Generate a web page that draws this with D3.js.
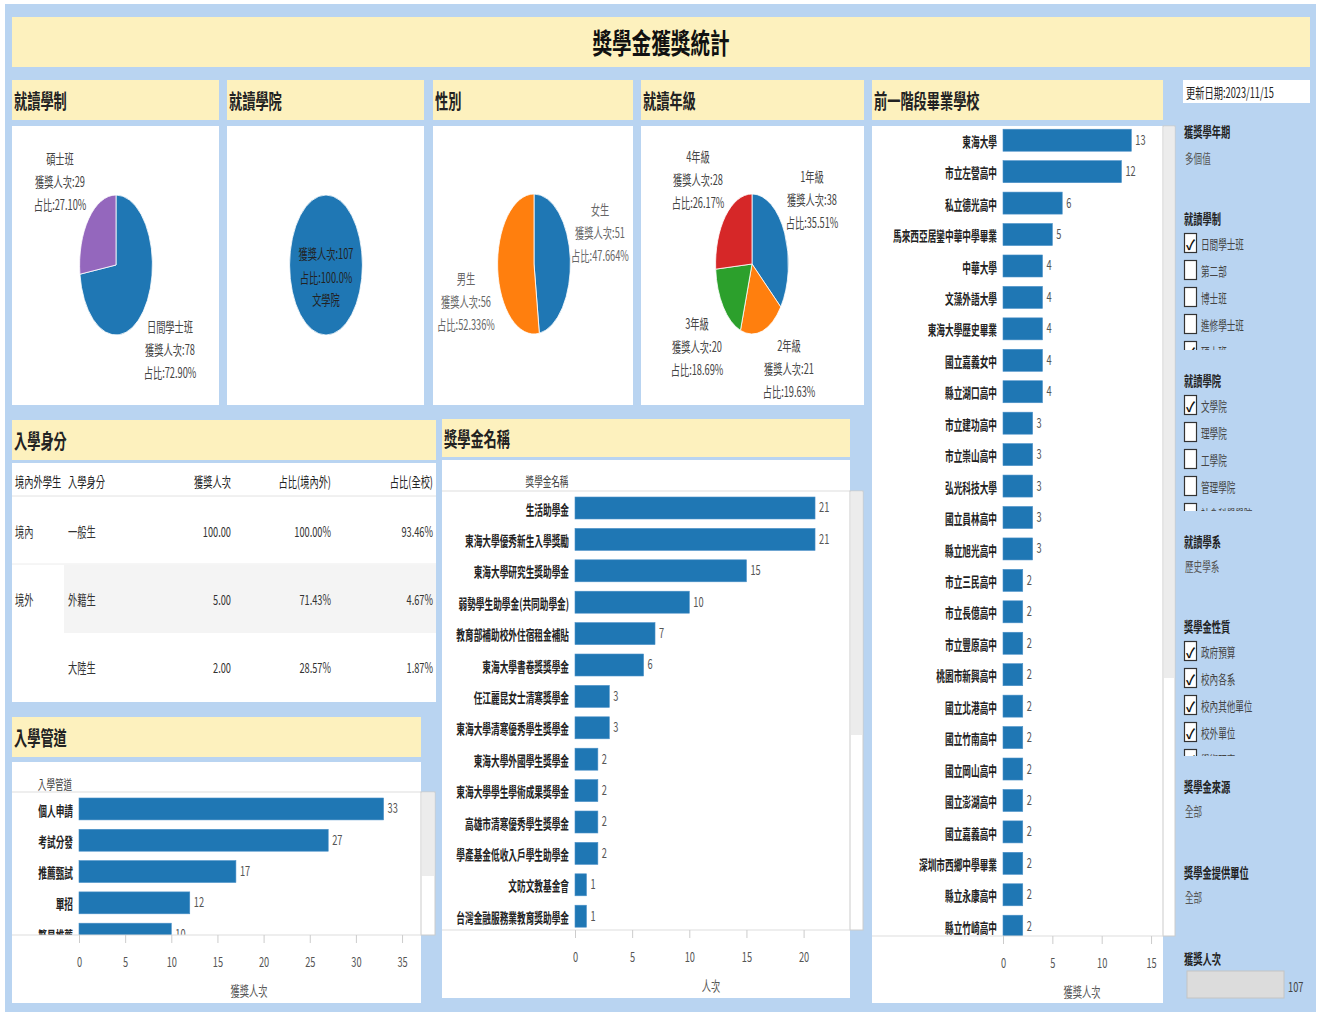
<!DOCTYPE html>
<html>
<head>
<meta charset="utf-8">
<script src="https://cdn.jsdelivr.net/npm/d3@7"></script>
<style>
  body { margin: 0; background: #fff; }
  svg text { font-family: "Noto Sans CJK TC", "Noto Sans", sans-serif; }
</style>
</head>
<body>
<svg id="dash" width="1321" height="1016"></svg>
<script>
// ---- data ----
const titleText = '獎學金獲獎統計';
const updateDate = '更新日期:2023/11/15';

const systemNames = ['日間學士班', '碩士班'];
const systemCounts = [78, 29];
const systemPct = ['72.90%', '27.10%'];

const collegeNames = ['文學院'];
const collegeCounts = [107];
const collegePct = ['100.0%'];

const genderNames = ['女生', '男生'];
const genderCounts = [51, 56];
const genderPct = ['47.664%', '52.336%'];

const gradeNames = ['1年級', '2年級', '3年級', '4年級'];
const gradeCounts = [38, 21, 20, 28];
const gradePct = ['35.51%', '19.63%', '18.69%', '26.17%'];

const idColumns = ['境內外學生', '入學身分', '獲獎人次', '占比(境內外)', '占比(全校)'];
const idRegion = ['境內', '境外', ''];
const idTypes = ['一般生', '外籍生', '大陸生'];
const idCounts = ['100.00', '5.00', '2.00'];
const idPctRegion = ['100.00%', '71.43%', '28.57%'];
const idPctAll = ['93.46%', '4.67%', '1.87%'];

const channelNames = ['個人申請', '考試分發', '推薦甄試', '單招', '繁星推薦'];
const channelCounts = [33, 27, 17, 12, 10];
const channelTicks = [0, 5, 10, 15, 20, 25, 30, 35];

const awardNames = ['生活助學金', '東海大學優秀新生入學獎勵', '東海大學研究生獎助學金',
  '弱勢學生助學金(共同助學金)', '教育部補助校外住宿租金補貼', '東海大學書卷獎獎學金',
  '任江麗昆女士清寒獎學金', '東海大學清寒優秀學生獎學金', '東海大學外國學生獎學金',
  '東海大學學生學術成果獎學金', '高雄市清寒優秀學生獎學金', '學產基金低收入戶學生助學金',
  '文昉文教基金會', '台灣金融服務業教育獎助學金'];
const awardCounts = [21, 21, 15, 10, 7, 6, 3, 3, 2, 2, 2, 2, 1, 1];
const awardTicks = [0, 5, 10, 15, 20];

const schoolNames = ['東海大學', '市立左營高中', '私立德光高中', '馬來西亞居鑾中華中學畢業',
  '中華大學', '文藻外語大學', '東海大學歷史畢業', '國立嘉義女中', '縣立湖口高中',
  '市立建功高中', '市立崇山高中', '弘光科技大學', '國立員林高中', '縣立旭光高中',
  '市立三民高中', '市立長億高中', '市立豐原高中', '桃園市新興高中', '國立北港高中',
  '國立竹南高中', '國立岡山高中', '國立澎湖高中', '國立嘉義高中', '深圳市西鄉中學畢業',
  '縣立永康高中', '縣立竹崎高中'];
const schoolCounts = [13, 12, 6, 5, 4, 4, 4, 4, 4, 3, 3, 3, 3, 3,
  2, 2, 2, 2, 2, 2, 2, 2, 2, 2, 2, 2];
const schoolTicks = [0, 5, 10, 15];

const filterYear = ['獲獎學年期', '多個值'];
const filterSystem = ['日間學士班', '第二部', '博士班', '進修學士班', '碩士班'];
const filterSystemOn = [true, false, false, false, true];
const filterCollege = ['文學院', '理學院', '工學院', '管理學院', '社會科學學院'];
const filterCollegeOn = [true, false, false, false, false];
const filterDept = ['就讀學系', '歷史學系'];
const filterNature = ['政府預算', '校內各系', '校內其他單位', '校外單位', '學術研究'];
const filterNatureOn = [true, true, true, true, true];
const filterSource = ['獎學金來源', '全部'];
const filterProvider = ['獎學金提供單位', '全部'];
const totalAwards = 107;

// ---- helpers ----
const BG = '#b9d4f1', YEL = '#fdf1be', BLUE = '#1f77b4';
const svg = d3.select('#dash');

function txt(g, x, y, s, o = {}) {
  return g.append('text')
    .attr('transform', `translate(${x},${y}) scale(${o.sx || 0.68},1)`)
    .attr('text-anchor', o.anchor || 'start')
    .attr('dominant-baseline', 'central')
    .attr('font-size', o.size || 13)
    .attr('font-weight', o.weight || 'normal')
    .attr('fill', o.fill || '#333')
    .text(s);
}
function box(x, y, w, h, fill, stroke) {
  return svg.append('rect').attr('x', x).attr('y', y).attr('width', w).attr('height', h)
    .attr('fill', fill).attr('stroke', stroke || 'none');
}
function header(x, y, w, h, label) {
  box(x, y, w, h, YEL);
  txt(svg, x + 2, y + h / 2, label, { size: 20, weight: 'bold', sx: 0.66, fill: '#222' });
}

// background
box(5, 4, 1311, 1008, BG);

// title
box(12, 17, 1298, 50, YEL);
txt(svg, 661, 42, titleText, { size: 28, weight: 'bold', sx: 0.7, anchor: 'middle', fill: '#111' });

// headers
header(12, 80, 207, 40, '就讀學制');
header(227, 80, 197, 40, '就讀學院');
header(433, 80, 200, 40, '性別');
header(641, 80, 223, 40, '就讀年級');
header(872, 80, 291, 40, '前一階段畢業學校');
header(12, 420, 424, 40, '入學身分');
header(12, 717, 409, 40, '入學管道');
header(442, 419, 408, 38, '獎學金名稱');

// white panels
box(12, 126, 207, 279, '#fff');
box(227, 126, 197, 279, '#fff');
box(433, 126, 200, 279, '#fff');
box(641, 126, 223, 279, '#fff');
box(872, 126, 291, 877, '#fff');
box(12, 463, 424, 239, '#fff');
box(12, 762, 409, 241, '#fff');
box(442, 460, 408, 538, '#fff');

// ---- pies ----
const color = d3.scaleOrdinal().range(['#1f77b4', '#ff7f0e', '#2ca02c', '#d62728', '#9467bd']);
const arc = d3.arc().innerRadius(0).outerRadius(70);
function pie(cx, cy, names, counts, colors) {
  const g = svg.append('g').attr('transform', `translate(${cx},${cy}) scale(0.52,1)`);
  const arcs = d3.pie().sort(null).value(d => d.v)(names.map((n, i) => ({ n, v: counts[i] })));
  g.selectAll('path').data(arcs).enter().append('path')
    .attr('d', arc)
    .attr('fill', (d, i) => colors[i])
    .attr('stroke', '#fff').attr('stroke-width', 0.8)
    .attr('vector-effect', 'non-scaling-stroke');
}
function pieLabel(x, y, name, count, pct, fill) {
  const o = { size: 14, sx: 0.66, anchor: 'middle', fill: fill || '#444' };
  txt(svg, x, y, name, o);
  txt(svg, x, y + 23, '獲獎人次:' + count, o);
  txt(svg, x, y + 46, '占比:' + pct, o);
}

pie(116, 265, systemNames, systemCounts, [BLUE, '#9467bd']);
pieLabel(170, 326, systemNames[0], systemCounts[0], systemPct[0]);
pieLabel(60, 158, systemNames[1], systemCounts[1], systemPct[1]);

pie(326, 265, collegeNames, collegeCounts, [BLUE]);
txt(svg, 326, 253, '獲獎人次:' + collegeCounts[0], { size: 14, sx: 0.66, anchor: 'middle', fill: '#222' });
txt(svg, 326, 277, '占比:' + collegePct[0], { size: 14, sx: 0.66, anchor: 'middle', fill: '#222' });
txt(svg, 326, 299, collegeNames[0], { size: 14, sx: 0.66, anchor: 'middle', fill: '#222' });

pie(534, 264, genderNames, genderCounts, [BLUE, '#ff7f0e']);
pieLabel(600, 209, genderNames[0], genderCounts[0], genderPct[0], '#666');
pieLabel(466, 278, genderNames[1], genderCounts[1], genderPct[1], '#666');

pie(752, 264, gradeNames, gradeCounts, [BLUE, '#ff7f0e', '#2ca02c', '#d62728']);
pieLabel(812, 176, gradeNames[0], gradeCounts[0], gradePct[0]);
pieLabel(789, 345, gradeNames[1], gradeCounts[1], gradePct[1]);
pieLabel(697, 323, gradeNames[2], gradeCounts[2], gradePct[2]);
pieLabel(698, 156, gradeNames[3], gradeCounts[3], gradePct[3]);

// ---- 入學身分 table ----
box(64, 565, 372, 68, '#f4f4f4');
svg.append('line').attr('x1', 12).attr('x2', 436).attr('y1', 496).attr('y2', 496).attr('stroke', '#e2e2e2');
svg.append('line').attr('x1', 12).attr('x2', 436).attr('y1', 564).attr('y2', 564).attr('stroke', '#ececec');
const colX = [15, 68, 231, 331, 433];
const colAnchor = ['start', 'start', 'end', 'end', 'end'];
idColumns.forEach((c, i) => txt(svg, colX[i], 481, c, { size: 14, sx: 0.66, anchor: colAnchor[i], fill: '#222' }));
const rowY = d3.scalePoint().domain(idTypes).range([531, 667]);
idTypes.forEach((t, i) => {
  const y = rowY(t);
  const cells = [idRegion[i], t, idCounts[i], idPctRegion[i], idPctAll[i]];
  cells.forEach((c, j) => txt(svg, colX[j], y, c, { size: 14, sx: 0.66, anchor: colAnchor[j], fill: '#333' }));
});

// ---- bar charts ----
function barChart(names, values, o) {
  const x = d3.scaleLinear().domain([0, o.max]).range([o.x0, o.x0 + o.max * o.unit]);
  const y = d3.scaleBand().domain(names)
    .range([o.y0, o.y0 + names.length * o.step])
    .paddingInner(0.3).paddingOuter(0.15);
  const id = 'clip' + o.id;
  svg.append('clipPath').attr('id', id).append('rect')
    .attr('x', o.left).attr('y', o.clipTop).attr('width', o.right - o.left).attr('height', o.axisY - o.clipTop);
  const g = svg.append('g').attr('clip-path', `url(#${id})`);
  g.selectAll('rect').data(names).enter().append('rect')
    .attr('x', x(0)).attr('y', d => y(d))
    .attr('width', (d, i) => x(values[i]) - x(0))
    .attr('height', y.bandwidth())
    .attr('fill', BLUE).attr('stroke', '#4a90c8').attr('stroke-width', 0.6);
  names.forEach((n, i) => {
    const cy = y(n) + y.bandwidth() / 2;
    txt(g, x(0) - 6, cy, n, { size: 14, sx: 0.62, anchor: 'end', fill: '#222', weight: 'bold' });
    txt(g, x(values[i]) + 4, cy - 2, values[i], { size: 14, sx: 0.66, fill: '#555' });
  });
  svg.append('line').attr('x1', o.left).attr('x2', o.right).attr('y1', o.axisY).attr('y2', o.axisY)
    .attr('stroke', '#ddd');
  const ax = svg.append('g').attr('transform', `translate(0,${o.axisY})`)
    .call(d3.axisBottom(x).tickValues(o.ticks).tickSize(8).tickPadding(14));
  ax.select('.domain').remove();
  ax.selectAll('.tick line').attr('stroke', '#ccc');
  ax.selectAll('.tick text').attr('fill', '#555').attr('font-size', 14)
    .attr('transform', 'scale(0.66,1)');
  txt(svg, o.titleX, o.axisY + 55, o.title, { size: 14, sx: 0.66, anchor: 'middle', fill: '#555' });
}

// 入學管道
txt(svg, 55, 783, '入學管道', { size: 13, sx: 0.66, anchor: 'middle', fill: '#444' });
svg.append('line').attr('x1', 12).attr('x2', 421).attr('y1', 792).attr('y2', 792).attr('stroke', '#ddd');
box(421, 792, 14, 143, '#fff', '#ccc');
box(422, 793, 12, 83, '#ececec');
barChart(channelNames, channelCounts, {
  id: 'ch', max: 35, unit: 9.23, x0: 79, y0: 793.3, step: 31.3,
  left: 12, right: 421, clipTop: 793, axisY: 935, ticks: channelTicks,
  title: '獲獎人次', titleX: 249
});

// 獎學金名稱
txt(svg, 547, 480, '獎學金名稱', { size: 13, sx: 0.66, anchor: 'middle', fill: '#444' });
svg.append('line').attr('x1', 442).attr('x2', 850).attr('y1', 491).attr('y2', 491).attr('stroke', '#ddd');
box(850, 491, 13, 439, '#fff', '#ccc');
box(851, 492, 11, 243, '#ececec');
barChart(awardNames, awardCounts, {
  id: 'aw', max: 20, unit: 11.43, x0: 575, y0: 492.3, step: 31.4,
  left: 442, right: 850, clipTop: 492, axisY: 930, ticks: awardTicks,
  title: '人次', titleX: 711
});

// 前一階段畢業學校
box(1163, 126, 12, 810, '#fff', '#ccc');
box(1164, 127, 10, 551, '#ececec');
barChart(schoolNames, schoolCounts, {
  id: 'sc', max: 15, unit: 9.87, x0: 1003, y0: 124.5, step: 31.44,
  left: 872, right: 1163, clipTop: 127, axisY: 936, ticks: schoolTicks,
  title: '獲獎人次', titleX: 1082
});

// ---- sidebar filters ----
box(1183, 80, 127, 23, '#fff');
txt(svg, 1186, 92, updateDate, { size: 14, sx: 0.66, fill: '#222' });

function fieldLabel(y, s) { txt(svg, 1184, y, s, { size: 14, sx: 0.66, fill: '#222', weight: 'bold' }); }
function fieldValue(y, s) { txt(svg, 1185, y, s, { size: 13, sx: 0.66, fill: '#555' }); }
function checkList(y0, items, on, clipBottom, cid) {
  svg.append('clipPath').attr('id', cid).append('rect')
    .attr('x', 1180).attr('y', y0 - 12).attr('width', 130).attr('height', clipBottom - y0 + 12);
  const g = svg.append('g').attr('clip-path', `url(#${cid})`);
  items.forEach((s, i) => {
    const y = y0 + i * 27;
    g.append('rect').attr('x', 1184.5).attr('y', y - 9.5).attr('width', 12).attr('height', 19)
      .attr('fill', '#fff').attr('stroke', '#333').attr('stroke-width', 1.2);
    if (on[i]) txt(g, 1190.5, y + 1, '✓', { size: 14, sx: 0.9, anchor: 'middle', fill: '#111', weight: 'bold' });
    txt(g, 1201, y, s, { size: 13, sx: 0.66, fill: '#444' });
  });
}

fieldLabel(131, filterYear[0]);
fieldValue(157, filterYear[1]);
fieldLabel(218, '就讀學制');
checkList(243, filterSystem, filterSystemOn, 350, 'f1');
fieldLabel(380, '就讀學院');
checkList(405, filterCollege, filterCollegeOn, 511, 'f2');
fieldLabel(541, filterDept[0]);
fieldValue(565, filterDept[1]);
fieldLabel(626, '獎學金性質');
checkList(651, filterNature, filterNatureOn, 756, 'f3');
fieldLabel(786, filterSource[0]);
fieldValue(810, filterSource[1]);
fieldLabel(872, filterProvider[0]);
fieldValue(896, filterProvider[1]);
fieldLabel(958, '獲獎人次');
box(1187, 971, 97, 27, '#dcdcdc', '#c4c4c4');
txt(svg, 1288, 986, totalAwards, { size: 14, sx: 0.66, fill: '#444' });
</script>
</body>
</html>
